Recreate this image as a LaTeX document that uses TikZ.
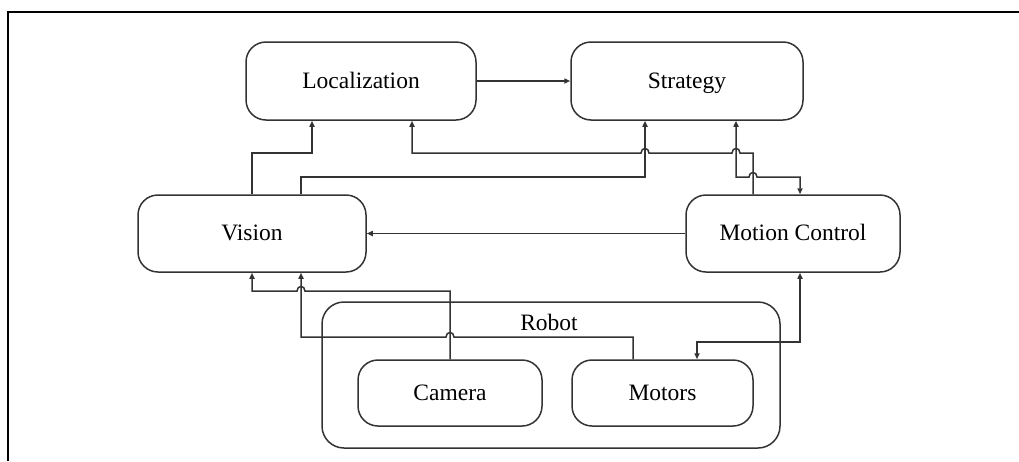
\documentclass[tikz,border=0pt]{standalone}
\usepackage{fontspec}
\setmainfont{Liberation Serif}
\usetikzlibrary{arrows.meta,calc}
\begin{document}
\begin{tikzpicture}[x=1pt,y=-1pt,
  box/.style={draw=black!80,line width=1.5pt,rounded corners=20pt,inner sep=0pt,text height=17pt,text depth=3pt,font=\fontsize{23.5}{26}\selectfont},
  lbl/.style={inner sep=0pt,text height=17pt,text depth=3pt,font=\fontsize{23.5}{26}\selectfont},
  conn/.style={draw=black!80,line width=1.5pt},
  arr/.style={conn,-{Triangle[length=6pt,width=5pt]}},
  biarr/.style={conn,{Triangle[length=6pt,width=5pt]}-{Triangle[length=6pt,width=5pt]}}]
\useasboundingbox (0,0) rectangle (1019,461);
\draw[line width=2pt] (8,461) -- (8,12) -- (1019,12);

\node[box,minimum width=230pt,minimum height=78pt] (loc) at (361,81) {Localization};
\node[box,minimum width=232pt,minimum height=78pt] (str) at (687,81) {Strategy};
\node[box,minimum width=228pt,minimum height=77pt] (vis) at (252,233.5) {Vision};
\node[box,minimum width=214pt,minimum height=77pt] (mc) at (793,233.5) {Motion Control};
\node[box,minimum width=458pt,minimum height=146pt,rounded corners=22pt] (rob) at (551,375) {};
\node[lbl] (roblbl) at (549,323) {Robot};
\node[box,minimum width=184pt,minimum height=66pt] (cam) at (450,393) {Camera};
\node[box,minimum width=181pt,minimum height=66pt] (mot) at (662.5,393) {Motors};

\draw[arr] (loc.east) -- (str.west);
\draw[arr] (mc.west) -- (vis.east);
\draw[arr] (vis.north) |- (312,153) -- ($(loc.south)+(-49,0)$);
\draw[arr] ($(vis.north)+(49,0)$) |- (645,177) -- ($(str.south)+(-42,0)$);
\draw[arr] ($(mc.north)+(-40,0)$) -- (753,153) -- (740,153)
  .. controls (740,147) and (732,147) .. (732,153) -- (649,153)
  .. controls (649,147) and (641,147) .. (641,153) -- (412,153)
  -- ($(loc.south)+(51,0)$);
\draw[biarr] ($(str.south)+(49,0)$) -- (736,177) -- (749,177)
  .. controls (749,171) and (757,171) .. (757,177) -- (800,177)
  -- ($(mc.north)+(7,0)$);
\draw[arr] (cam.north) -- (450,291) -- (305,291)
  .. controls (305,285) and (297,285) .. (297,291) -- (252,291) -- (vis.south);
\draw[arr] ($(mot.north)+(-29.5,0)$) -- (633,337) -- (454,337)
  .. controls (454,331) and (446,331) .. (446,337) -- (301,337)
  -- ($(vis.south)+(49,0)$);
\draw[biarr] ($(mc.south)+(7,0)$) -- (800,342) -- (697,342) -- ($(mot.north)+(34.5,0)$);
\end{tikzpicture}
\end{document}
